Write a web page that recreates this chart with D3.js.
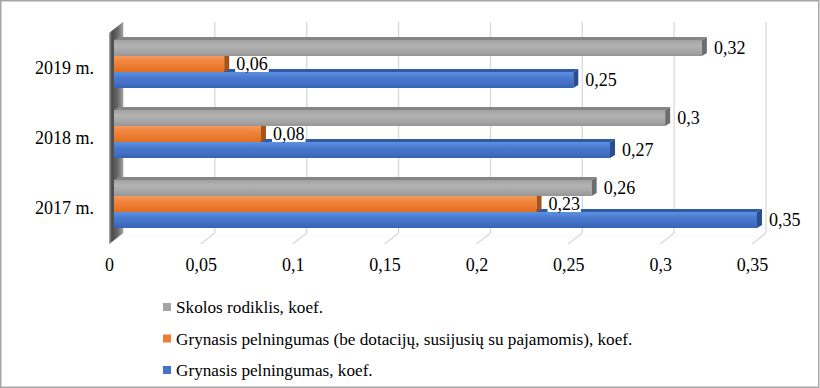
<!DOCTYPE html>
<html>
<head>
<meta charset="utf-8">
<script src="https://cdn.jsdelivr.net/npm/d3@7"></script>
<style>
  html, body { margin: 0; padding: 0; background: #fff; }
  svg { display: block; }
</style>
</head>
<body>
<svg id="chart" width="820" height="388"></svg>
<script>
// ---- data ----
const categories = ["2019 m.", "2018 m.", "2017 m."];
const seriesNames = [
  "Skolos rodiklis, koef.",
  "Grynasis pelningumas (be dotacijų, susijusių su pajamomis), koef.",
  "Grynasis pelningumas, koef."
];
const skolosRodiklis = [0.32, 0.30, 0.26];
const pelningumasBeDotaciju = [0.06, 0.08, 0.23];
const pelningumas = [0.25, 0.27, 0.35];
const tickValues = [0, 0.05, 0.1, 0.15, 0.2, 0.25, 0.3, 0.35];
const tickLabels = ["0", "0,05", "0,1", "0,15", "0,2", "0,25", "0,3", "0,35"];
const seriesValues = [skolosRodiklis, pelningumasBeDotaciju, pelningumas];

// ---- styles ----
const FONT = "Liberation Serif";
const seriesKeys = ["gray", "orange", "blue"];
const palette = {
  gray:   { stops: ["#a2a2a2", "#b3b3b3", "#a6a6a6", "#959595"], top: "#858585", cap: "#6e6e6e", legend: "#a5a5a5" },
  orange: { stops: ["#f59a5c", "#f08540", "#ec7a2c", "#e06e1e"], top: "#c4611c", cap: "#a8521a", legend: "#ed7d31" },
  blue:   { stops: ["#5e91e2", "#4a7ad0", "#4270c4", "#3762b5"], top: "#2f5aa5", cap: "#2b4d8e", legend: "#4472c4" }
};

const svg = d3.select("#chart");
const W = 820, H = 388;

// depth offsets
const capDX = 5, capDY = 3;
const backDX = 9, frontDX = -5;
const wallTop = 22, floorBack = 233, floorFront = 244;

const x = d3.scaleLinear().domain([0, 0.35]).range([114, 757]);
const xBack = v => x(v) + backDX;
const xFront = d3.scaleLinear().domain([0, 0.35]).range([114 + frontDX, 757 + frontDX]);

const y = d3.scaleBand().domain(categories).range([29, 239]).paddingInner(22 / 70).paddingOuter(11 / 70);
const ySeries = d3.scaleBand().domain(seriesKeys).range([0, y.bandwidth()]);

// gradients
const defs = svg.append("defs");
seriesKeys.forEach(k => {
  const g = defs.append("linearGradient").attr("id", "grad-" + k)
    .attr("x1", 0).attr("y1", 0).attr("x2", 0).attr("y2", 1);
  const offs = [0, 0.35, 0.7, 1];
  palette[k].stops.forEach((c, i) => g.append("stop").attr("offset", offs[i]).attr("stop-color", c));
});
const wg = defs.append("linearGradient").attr("id", "wall").attr("x1", 0).attr("y1", 0).attr("x2", 1).attr("y2", 0);
[["0", "#b0b0b0"], ["0.2", "#4a4a4a"], ["0.6", "#666666"], ["1", "#a0a0a0"]]
  .forEach(([o, c]) => wg.append("stop").attr("offset", o).attr("stop-color", c));

// background + border
svg.append("rect").attr("x", 0.75).attr("y", 0.75).attr("width", W - 2).attr("height", H - 1.5)
  .attr("fill", "#fff").attr("stroke", "#a6a6a6").attr("stroke-width", 1.5);

// back wall gridlines
svg.append("g").selectAll("line").data(tickValues).join("line")
  .attr("x1", d => xBack(d)).attr("x2", d => xBack(d))
  .attr("y1", wallTop).attr("y2", floorBack)
  .attr("stroke", "#d9d9d9").attr("stroke-width", 1.3);

// floor tick diagonals
svg.append("g").selectAll("line").data(tickValues).join("line")
  .attr("x1", d => xBack(d)).attr("y1", floorBack)
  .attr("x2", d => xFront(d)).attr("y2", floorFront)
  .attr("stroke", "#d9d9d9").attr("stroke-width", 1.3);

// left wall
const wx0 = xFront(0), wx1 = xBack(0);
svg.append("path")
  .attr("d", `M${wx0},${wallTop + 11}L${wx1},${wallTop}L${wx1},${floorBack}L${wx0},${floorFront}Z`)
  .attr("fill", "url(#wall)");

// bars
const barData = [];
categories.forEach((c, ci) => {
  seriesKeys.forEach((k, si) => {
    barData.push({ cat: c, key: k, si, value: seriesValues[si][ci] });
  });
});
const drawOrder = barData.slice().sort((a, b) => b.si - a.si);
const bars = svg.append("g").selectAll("g").data(drawOrder).join("g");
bars.each(function (d) {
  const g = d3.select(this);
  const y0 = y(d.cat) + ySeries(d.key);
  const h = ySeries.bandwidth();
  const x0 = x(0), x1 = x(d.value);
  g.append("path")
    .attr("d", `M${x0},${y0}L${x0 + capDX},${y0 - capDY}L${x1 + capDX},${y0 - capDY}L${x1},${y0}Z`)
    .attr("fill", palette[d.key].top);
  g.append("rect").attr("x", x0).attr("y", y0).attr("width", x1 - x0).attr("height", h)
    .attr("fill", `url(#grad-${d.key})`);
  g.append("path")
    .attr("d", `M${x1},${y0}L${x1 + capDX},${y0 - capDY}L${x1 + capDX},${y0 + h - capDY}L${x1},${y0 + h}Z`)
    .attr("fill", palette[d.key].cap);
});

// value labels
const labels = svg.append("g").selectAll("g").data(barData).join("g");
labels.each(function (d) {
  const g = d3.select(this);
  const y0 = y(d.cat) + ySeries(d.key) + ySeries.bandwidth() / 2;
  const t = g.append("text")
    .attr("x", x(d.value) + 12).attr("y", y0 + 6)
    .style("font-family", FONT).style("font-size", "18px").style("fill", "#000")
    .text(String(d.value).replace(".", ","));
  const bb = t.node().getBBox();
  g.insert("rect", "text").attr("x", bb.x - 1).attr("y", bb.y + 3).attr("width", bb.width + 2).attr("height", bb.height - 5)
    .attr("fill", "#fff");
});

// x axis labels
const xAxis = d3.axisBottom(xFront).tickValues(tickValues).tickSize(0).tickPadding(3)
  .tickFormat((d, i) => tickLabels[i]);
const gx = svg.append("g").attr("transform", "translate(0,255)").call(xAxis);
gx.select(".domain").remove();
gx.attr("font-family", null).attr("font-size", null);
gx.selectAll("text").style("font-family", FONT).style("font-size", "18px").style("fill", "#000");

// y axis labels
const yAxis = d3.axisLeft(y).tickSize(0).tickPadding(6);
const gy = svg.append("g").attr("transform", "translate(100,4)").call(yAxis);
gy.select(".domain").remove();
gy.attr("font-family", null).attr("font-size", null);
gy.selectAll("text").style("font-family", FONT).style("font-size", "18px").style("fill", "#000");

// legend
const legend = svg.append("g").selectAll("g").data(seriesKeys).join("g")
  .attr("transform", (d, i) => `translate(163,${307 + i * 31.5})`);
legend.append("rect").attr("x", 0).attr("y", -4).attr("width", 8).attr("height", 8)
  .attr("fill", d => palette[d].legend);
legend.append("text").attr("x", 13).attr("y", 6)
  .style("font-family", FONT).style("font-size", "17.2px").style("fill", "#000")
  .text((d, i) => seriesNames[i]);
</script>
</body>
</html>
